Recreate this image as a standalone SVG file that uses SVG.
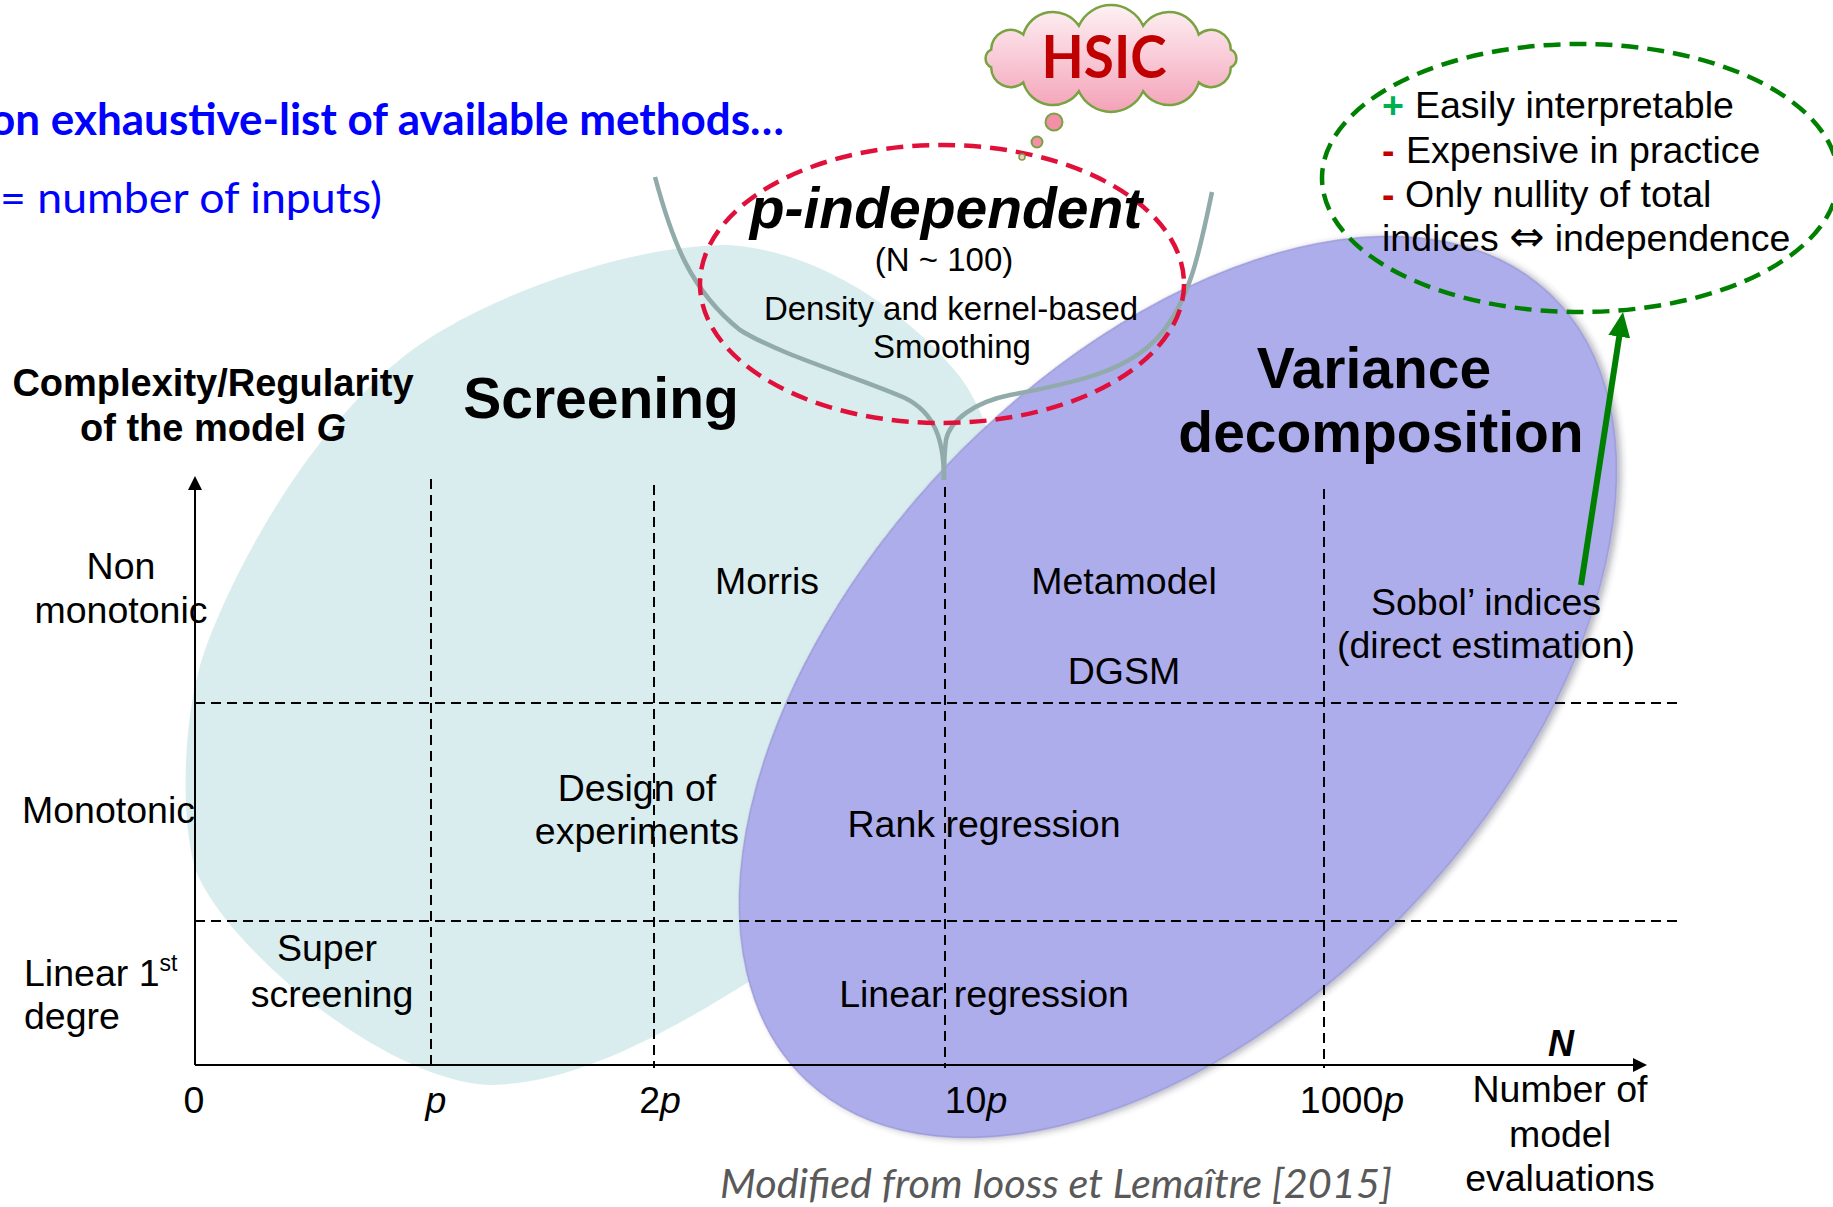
<svg xmlns="http://www.w3.org/2000/svg" width="1833" height="1207" viewBox="0 0 1833 1207">
  <defs>
    <style>
      .t{font-family:"Liberation Sans",Arial,sans-serif;font-size:37.5px;fill:#000}
      .m{text-anchor:middle}
      .b{font-weight:bold}
      .i{font-style:italic}
      .big{font-size:57px;font-weight:bold}
      .mid{font-size:33px}
      .cal{font-family:Lato,"Open Sans",sans-serif}
      .grid{stroke:#000;stroke-width:2;stroke-dasharray:10 6;fill:none}
      .axis{stroke:#000;stroke-width:2;fill:none;marker-end:url(#axisHead)}
    </style>
    <marker id="axisHead" viewBox="0 0 14 14" markerWidth="14" markerHeight="14" markerUnits="userSpaceOnUse" refX="6" refY="7" orient="auto">
      <path d="M0,0 L14,7 L0,14 z" fill="#000"/>
    </marker>
    <marker id="greenHead" viewBox="0 0 25 22" markerWidth="25" markerHeight="22" markerUnits="userSpaceOnUse" refX="2.5" refY="11" orient="auto">
      <path d="M0,0 L25,11 L0,22 z" fill="#008000"/>
    </marker>
    <linearGradient id="cloudFill" x1="0" y1="0" x2="0" y2="1">
      <stop offset="0" stop-color="#fdf1f4"/>
      <stop offset="1" stop-color="#f4a2b8"/>
    </linearGradient>
    <filter id="softShadow" x="-10%" y="-10%" width="120%" height="120%">
      <feDropShadow dx="2" dy="4" stdDeviation="3" flood-color="#303050" flood-opacity="0.35"/>
    </filter>
  </defs>

  <!-- title lines -->
  <g id="title">
    <text class="cal" x="-10" y="135" font-size="44" font-weight="bold" fill="#0000ff" textLength="794" lengthAdjust="spacingAndGlyphs">on exhaustive-list of available methods…</text>
    <text class="cal" x="0" y="213" font-size="42" fill="#0000ff" textLength="382" lengthAdjust="spacingAndGlyphs">= number of inputs)</text>
  </g>

  <!-- screening region -->
  <g id="region-screening">
    <path d="M728,245 C820,250 910,315 957,373 C987,410 1010,480 1000,560 C975,700 880,900 763,973 C680,1025 580,1085 488,1085 C390,1080 240,960 200,880 C180,840 180,720 205,650 C230,580 300,440 403,357 C470,303 620,245 728,245 Z" fill="#daedee"/>
  </g>

  <!-- variance decomposition region -->
  <g id="region-variance">
    <ellipse cx="1178" cy="687" rx="541" ry="320" transform="rotate(-46.6 1178 687)" fill="#aeadec" stroke="#9c9bd8" stroke-width="1.5" filter="url(#softShadow)"/>
  </g>

  <!-- grid -->
  <g id="grid">
    <line class="grid" x1="431" y1="479" x2="431" y2="1068"/>
    <line class="grid" x1="654" y1="485" x2="654" y2="1068"/>
    <line class="grid" x1="945" y1="487" x2="945" y2="1068"/>
    <line class="grid" x1="1324" y1="489" x2="1324" y2="1068"/>
    <line class="grid" x1="195" y1="703" x2="1680" y2="703"/>
    <line class="grid" x1="195" y1="921" x2="1680" y2="921"/>
  </g>

  <!-- axes -->
  <g id="axes">
    <line class="axis" x1="195" y1="1065" x2="195" y2="484"/>
    <line class="axis" x1="195" y1="1065" x2="1639" y2="1065"/>
    <text class="t b m" x="213" y="396" style="font-size:38px">Complexity/Regularity</text>
    <text class="t b m" x="213" y="441" style="font-size:38px">of the model <tspan font-style="italic">G</tspan></text>
    <text class="t m" x="121" y="579">Non</text>
    <text class="t m" x="121" y="623">monotonic</text>
    <text class="t" x="22" y="823">Monotonic</text>
    <text class="t" x="24" y="986">Linear 1<tspan style="font-size:23px" dy="-15">st</tspan></text>
    <text class="t" x="24" y="1029">degre</text>
    <text class="t m" x="194" y="1113">0</text>
    <text class="t m i" x="436" y="1113">p</text>
    <text class="t m" x="660" y="1113">2<tspan font-style="italic">p</tspan></text>
    <text class="t m" x="976" y="1113">10<tspan font-style="italic">p</tspan></text>
    <text class="t m" x="1352" y="1113">1000<tspan font-style="italic">p</tspan></text>
    <text class="t m b i" x="1561" y="1056" style="font-size:36px">N</text>
    <text class="t m" x="1560" y="1102">Number of</text>
    <text class="t m" x="1560" y="1147">model</text>
    <text class="t m" x="1560" y="1191">evaluations</text>
  </g>

  <!-- region titles and method labels -->
  <g id="labels">
    <text class="t m big" x="601" y="418">Screening</text>
    <text class="t m big" x="1374" y="388">Variance</text>
    <text class="t m big" x="1381" y="452">decomposition</text>
    <text class="t m" x="767" y="594">Morris</text>
    <text class="t m" x="1124" y="594">Metamodel</text>
    <text class="t m" x="1124" y="684">DGSM</text>
    <text class="t m" x="1486" y="615">Sobol’ indices</text>
    <text class="t m" x="1486" y="658">(direct estimation)</text>
    <text class="t m" x="637" y="801">Design of</text>
    <text class="t m" x="637" y="844">experiments</text>
    <text class="t m" x="984" y="837">Rank regression</text>
    <text class="t m" x="327" y="961">Super</text>
    <text class="t m" x="332" y="1007">screening</text>
    <text class="t m" x="984" y="1007">Linear regression</text>
  </g>

  <!-- connectors: funnel into the 10p column and arrow to the Sobol notes -->
  <g id="connectors" fill="none">
    <path d="M655,177 C672,240 690,290 740,330 C780,355 860,378 905,398 C935,413 944,440 944,480" stroke="#91aaaa" stroke-width="4.5"/>
    <path d="M1212,192 C1200,250 1190,300 1160,335 C1130,370 1080,382 1010,395 C975,402 950,420 946,440 C944,455 944,470 944,480" stroke="#91aaaa" stroke-width="4.5"/>
    <line x1="1581" y1="585" x2="1619.6" y2="334.2" stroke="#008000" stroke-width="6" marker-end="url(#greenHead)"/>
  </g>

  <!-- p-independent methods -->
  <g id="p-independent">
    <ellipse cx="942" cy="284" rx="242" ry="139" fill="none" stroke="#e0103a" stroke-width="4.5" stroke-dasharray="17 9"/>
    <text class="t m b i" x="946" y="228" style="font-size:57px">p-independent</text>
    <text class="t m mid" x="944" y="271">(N ~ 100)</text>
    <text class="t m mid" x="951" y="320">Density and kernel-based</text>
    <text class="t m mid" x="952" y="358">Smoothing</text>
  </g>

  <!-- HSIC thought cloud -->
  <g id="hsic">
    <path d="M1230.8,49.7 A9.7,9.7 0 0 1 1230.8,67.3 A19.5,19.5 0 0 1 1198.7,82.5 A31,31 0 0 1 1143.1,91.3 A35.3,35.3 0 0 1 1078.9,91.3 A31,31 0 0 1 1023.3,82.5 A19.5,19.5 0 0 1 991.2,67.3 A9.7,9.7 0 0 1 991.2,49.7 A19.5,19.5 0 0 1 1023.3,34.5 A31,31 0 0 1 1078.9,25.7 A35.3,35.3 0 0 1 1143.1,25.7 A31,31 0 0 1 1198.7,34.5 A19.5,19.5 0 0 1 1230.8,49.7 Z" fill="url(#cloudFill)" stroke="#79a240" stroke-width="2.5"/>
    <circle cx="1054" cy="122" r="8.5" fill="#f48fa8" stroke="#79a240" stroke-width="2"/>
    <circle cx="1037" cy="142" r="5.5" fill="#f48fa8" stroke="#79a240" stroke-width="2"/>
    <circle cx="1022" cy="157" r="3" fill="#f7c7d3" stroke="#79a240" stroke-width="1.5"/>
    <text class="cal" x="1104" y="78" font-size="60" font-weight="bold" fill="#c00000" text-anchor="middle" textLength="125" lengthAdjust="spacingAndGlyphs">HSIC</text>
  </g>

  <!-- Sobol indices notes -->
  <g id="sobol-notes">
    <ellipse cx="1580" cy="178" rx="258" ry="134" fill="none" stroke="#008000" stroke-width="4.5" stroke-dasharray="17 9"/>
    <text class="t b" x="1382" y="118" style="fill:#00b050">+</text>
    <text class="t" x="1415" y="118">Easily interpretable</text>
    <text class="t b" x="1382" y="163" style="fill:#c00000">-</text>
    <text class="t" x="1406" y="163">Expensive in practice</text>
    <text class="t b" x="1382" y="207" style="fill:#c00000">-</text>
    <text class="t" x="1405" y="207">Only nullity of total</text>
    <text class="t" x="1382" y="251">indices <tspan style="font-family:'DejaVu Sans',sans-serif;font-size:42px">⇔</tspan> independence</text>
  </g>

  <!-- source -->
  <g id="credit">
    <text class="cal" x="720" y="1198" font-size="40" font-style="italic" fill="#595959" textLength="672" lengthAdjust="spacingAndGlyphs">Modified from Iooss et Lemaître [2015]</text>
  </g>
</svg>
